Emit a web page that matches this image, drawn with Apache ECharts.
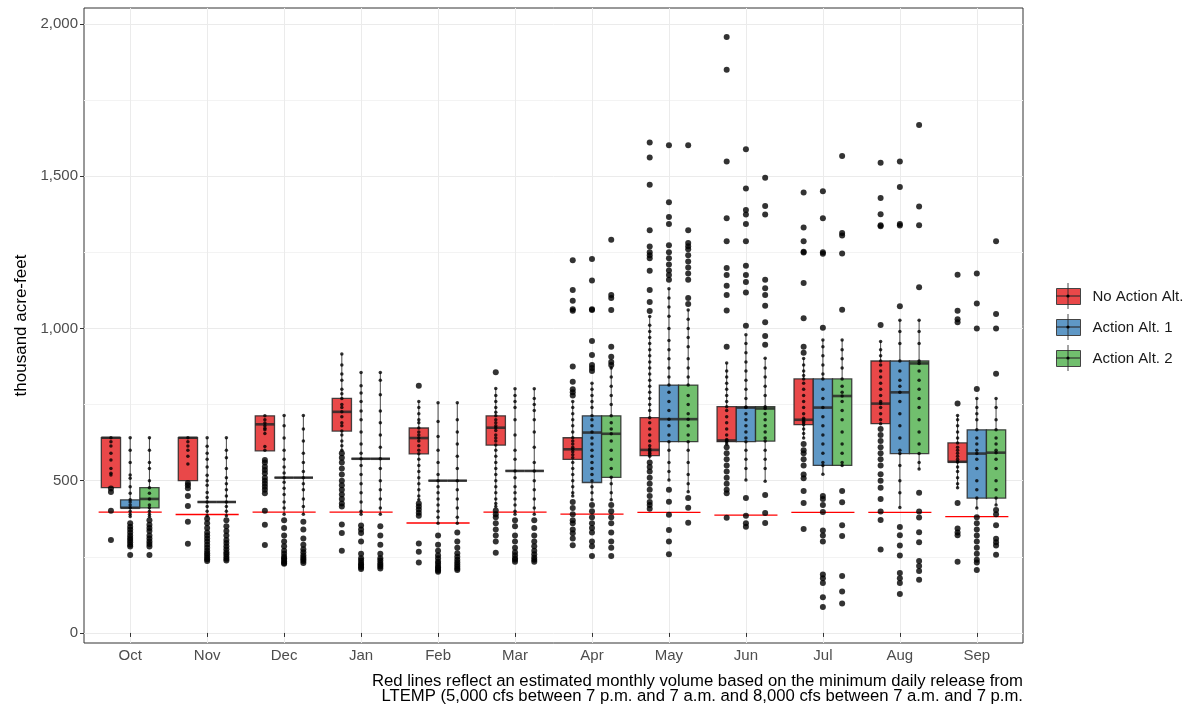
<!DOCTYPE html>
<html>
<head>
    <meta charset="utf-8">
    <title>Monthly volume</title>
    <script src="https://cdn.jsdelivr.net/npm/echarts@6/dist/echarts.min.js"></script>
</head>
<body style="margin:0">
<div id="chart" style="width:1190px;height:705px;"></div>

<script type="text/javascript">

    var months = ['Oct', 'Nov', 'Dec', 'Jan', 'Feb', 'Mar', 'Apr', 'May', 'Jun', 'Jul', 'Aug', 'Sep'];
    var alts = ['No Action Alt.', 'Action Alt. 1', 'Action Alt. 2'];
    var yTicks = [0, 500, 1000, 1500, 2000];
    var yMinorTicks = [250, 750, 1250, 1750];

    // red reference line per month
    var redLine = [397, 389, 397, 397, 361, 397, 390, 396, 387, 396, 396, 382];

    // [low whisker, q1, median, q3, high whisker]
    var boxNoAction = [
        [477, 477, 641, 641, 641], [500, 500, 641, 641, 641], [598, 598, 685, 713, 713],
        [600, 663, 726, 770, 916], [437, 588, 640, 673, 760], [415, 617, 674, 713, 803],
        [450, 570, 603, 641, 760], [570, 582, 601, 707, 1039], [620, 628, 632, 743, 886],
        [640, 684, 700, 834, 901], [687, 687, 753, 893, 957], [477, 561, 562, 624, 714]
    ];
    var boxAlt1 = [
        [382, 411, 411, 437, 641], [385, 430, 430, 430, 641], [390, 510, 510, 510, 714],
        [390, 572, 572, 572, 855], [360, 500, 500, 500, 756], [390, 532, 532, 532, 802],
        [437, 494, 658, 713, 820], [502, 628, 702, 814, 1130], [502, 628, 740, 742, 979],
        [521, 550, 740, 834, 962], [412, 589, 790, 893, 1027], [410, 443, 589, 667, 770]
    ];
    var boxAlt2 = [
        [382, 411, 440, 477, 641], [385, 430, 430, 430, 641], [390, 510, 510, 510, 714],
        [390, 572, 572, 572, 855], [360, 500, 500, 500, 756], [390, 532, 532, 532, 802],
        [437, 511, 654, 713, 870], [464, 628, 702, 814, 1060], [498, 630, 737, 743, 902],
        [550, 550, 778, 834, 962], [538, 589, 885, 893, 1027], [420, 443, 592, 667, 770]
    ];

    // individual yearly values (small dots)
    var ptsNoAction = [
        [641, 628, 614, 590, 568, 540, 524, 519],
        [641, 628, 614, 600, 580, 555],
        [713, 700, 689, 680, 672, 667, 655, 612, 600],
        [916, 880, 850, 830, 800, 785, 770, 750, 740, 726, 710, 690, 680, 663, 650, 630, 615, 600],
        [760, 740, 720, 700, 690, 673, 660, 650, 640, 630, 615, 600, 588, 570, 550, 530, 510, 490, 470, 450, 437],
        [803, 780, 760, 740, 725, 713, 700, 690, 680, 674, 665, 650, 640, 630, 617, 600, 580, 560, 540, 520, 500, 480, 460, 440, 425, 415],
        [760, 740, 720, 700, 680, 660, 641, 630, 620, 610, 603, 595, 585, 575, 560, 540, 520, 500, 480, 460, 450],
        [1039, 1010, 990, 970, 950, 930, 910, 890, 870, 850, 830, 810, 790, 770, 750, 730, 707, 690, 670, 650, 630, 615, 605, 600, 595, 590, 585, 580],
        [886, 860, 840, 820, 800, 780, 760, 743, 730, 710, 690, 670, 650, 635, 632, 630, 628, 620],
        [901, 880, 860, 845, 834, 820, 800, 780, 760, 740, 720, 705, 700, 695, 690, 684, 670, 655, 640],
        [957, 930, 910, 893, 880, 860, 840, 820, 800, 780, 760, 753, 740, 720, 700, 687],
        [714, 700, 680, 660, 640, 624, 610, 600, 590, 580, 570, 562, 561, 545, 530, 510, 490, 477]
    ];
    var ptsAlt1 = [
        [641, 600, 560, 519, 508, 480, 459, 437, 430, 420, 411, 400, 390, 382],
        [641, 613, 590, 570, 545, 518, 500, 485, 461, 445, 430, 415, 400, 385],
        [714, 680, 640, 600, 570, 545, 525, 510, 495, 475, 455, 430, 410, 390],
        [855, 812, 788, 760, 729, 700, 660, 620, 590, 572, 550, 520, 490, 460, 430, 400, 390],
        [756, 694, 645, 600, 560, 520, 500, 480, 460, 440, 420, 400, 380, 360],
        [802, 780, 760, 740, 700, 650, 600, 570, 532, 510, 480, 460, 440, 420, 400, 390],
        [820, 800, 780, 760, 740, 713, 700, 680, 660, 640, 620, 600, 580, 560, 540, 520, 500, 480, 460, 437],
        [1130, 1100, 1070, 1040, 1000, 960, 930, 900, 870, 840, 814, 790, 760, 730, 702, 680, 650, 628, 600, 560, 530, 502],
        [979, 950, 920, 890, 860, 830, 800, 770, 742, 740, 720, 700, 680, 660, 640, 628, 600, 570, 540, 502],
        [962, 940, 910, 880, 850, 834, 800, 770, 740, 710, 680, 650, 620, 590, 560, 550, 521],
        [1027, 990, 950, 893, 860, 830, 810, 790, 760, 720, 680, 640, 600, 589, 550, 500, 460, 412],
        [770, 740, 720, 700, 667, 640, 620, 600, 589, 570, 540, 500, 470, 443, 410]
    ];
    var ptsAlt2 = [
        [641, 600, 560, 540, 500, 477, 459, 440, 420, 411, 400, 390, 382],
        [641, 600, 575, 540, 510, 490, 470, 450, 430, 415, 400, 385],
        [714, 670, 630, 590, 560, 530, 510, 490, 470, 440, 415, 390],
        [855, 830, 782, 729, 690, 650, 610, 572, 540, 500, 470, 440, 410, 390],
        [756, 700, 660, 620, 580, 540, 500, 470, 440, 410, 380, 360],
        [802, 770, 750, 730, 700, 660, 610, 560, 532, 500, 470, 440, 410, 390],
        [870, 840, 810, 780, 750, 713, 690, 670, 654, 630, 600, 570, 540, 511, 490, 460, 437],
        [1060, 1030, 1000, 970, 940, 900, 870, 840, 814, 780, 750, 720, 702, 680, 650, 628, 600, 560, 520, 490, 464],
        [902, 870, 840, 810, 780, 743, 737, 720, 700, 680, 660, 640, 630, 600, 570, 540, 498],
        [962, 930, 900, 870, 834, 810, 790, 778, 760, 730, 700, 660, 620, 590, 560, 550],
        [1027, 990, 950, 893, 885, 860, 830, 800, 770, 740, 700, 660, 620, 589, 560, 538],
        [770, 740, 700, 667, 640, 620, 600, 592, 570, 540, 500, 470, 443, 420]
    ];

    // outliers (large dots)
    var outNoAction = [
        [474, 463, 401, 305],
        [492, 485, 475, 450, 417, 365, 293],
        [568, 560, 546, 535, 524, 510, 500, 490, 480, 470, 459, 401, 355, 289],
        [590, 575, 560, 540, 520, 500, 485, 470, 455, 440, 425, 415, 356, 328, 270],
        [812, 425, 415, 405, 395, 385, 294, 267, 231],
        [856, 402, 390, 380, 360, 340, 320, 300, 263],
        [1224, 1126, 1091, 1063, 1058, 875, 825, 800, 790, 780, 430, 410, 390, 370, 360, 340, 327, 310, 288],
        [1610, 1561, 1472, 1322, 1269, 1250, 1240, 1230, 1189, 1126, 1087, 1057, 560, 545, 530, 510, 490, 470, 450, 430, 420, 408],
        [1957, 1849, 1548, 1362, 1286, 1198, 1175, 1140, 1110, 1059, 940, 610, 590, 570, 550, 530, 510, 490, 470, 459, 378],
        [1446, 1331, 1286, 1252, 1249, 1149, 1033, 940, 920, 620, 600, 590, 570, 550, 520, 508, 466, 427, 341],
        [1544, 1428, 1375, 1339, 1335, 1011, 670, 650, 630, 610, 590, 570, 550, 521, 500, 477, 440, 399, 371, 274],
        [1176, 1058, 1030, 1020, 753, 427, 343, 330, 321, 234]
    ];
    var outAlt1 = [
        [360, 349, 340, 330, 320, 312, 305, 298, 290, 284, 256],
        [375, 360, 345, 330, 320, 310, 300, 290, 280, 270, 262, 255, 248, 242, 236],
        [370, 345, 320, 300, 285, 270, 260, 250, 245, 240, 235, 230, 227],
        [353, 340, 328, 300, 260, 245, 238, 230, 225, 220, 215, 210],
        [320, 290, 270, 255, 245, 235, 228, 220, 215, 210, 205, 201],
        [370, 350, 320, 300, 280, 265, 255, 245, 240, 234],
        [1228, 1157, 1063, 1060, 959, 913, 880, 870, 860, 420, 400, 380, 360, 345, 330, 300, 285, 253],
        [1601, 1414, 1366, 1343, 1273, 1250, 1230, 1210, 1190, 1175, 1160, 470, 431, 388, 338, 300, 258],
        [1588, 1459, 1389, 1374, 1343, 1286, 1206, 1175, 1152, 1118, 1009, 443, 385, 360, 349],
        [1450, 1362, 1250, 1245, 1002, 450, 440, 420, 397, 336, 320, 300, 192, 180, 164, 117, 85],
        [1548, 1464, 1343, 1338, 1073, 348, 321, 287, 254, 197, 180, 164, 128],
        [1180, 1082, 1000, 801, 380, 360, 340, 320, 300, 280, 260, 240, 231, 207]
    ];
    var outAlt2 = [
        [370, 355, 345, 335, 320, 310, 300, 292, 284, 256],
        [370, 350, 335, 320, 305, 295, 285, 275, 265, 258, 250, 244, 238],
        [365, 340, 310, 290, 275, 265, 255, 248, 242, 236, 230],
        [350, 320, 290, 260, 245, 238, 230, 224, 218, 212],
        [330, 300, 280, 262, 250, 240, 232, 225, 218, 212, 207],
        [370, 345, 320, 300, 285, 270, 258, 248, 240, 234],
        [1291, 1110, 1100, 1060, 940, 907, 890, 880, 420, 400, 380, 360, 330, 300, 280, 253],
        [1601, 1322, 1280, 1270, 1260, 1240, 1220, 1200, 1180, 1160, 1100, 1080, 443, 411, 362],
        [1495, 1402, 1374, 1160, 1132, 1110, 1074, 1020, 975, 946, 453, 394, 361],
        [1566, 1313, 1305, 1246, 1061, 466, 429, 354, 318, 187, 136, 97],
        [1668, 1400, 1339, 1135, 460, 399, 379, 331, 298, 236, 220, 203, 175],
        [1286, 1047, 1000, 851, 404, 390, 354, 309, 298, 287, 257]
    ];

    var fills = ['#E94849', '#5F98C6', '#71BF6E'];
    var dodge = [-0.25, 0, 0.25];
    var boxW = 0.25;
    var lineHalf = 0.41;
    var boxes = [boxNoAction, boxAlt1, boxAlt2];
    var pts = [ptsNoAction, ptsAlt1, ptsAlt2];
    var outs = [outNoAction, outAlt1, outAlt2];
    var stroke = 'rgba(40,40,40,0.85)';

    function renderBox(params, api) {
        var x = api.value(0);
        var lo = api.coord([x, api.value(1)]);
        var hi = api.coord([x, api.value(5)]);
        var q1l = api.coord([x - boxW / 2, api.value(2)]);
        var q3r = api.coord([x + boxW / 2, api.value(4)]);
        var medL = api.coord([x - boxW / 2, api.value(3)]);
        var medR = api.coord([x + boxW / 2, api.value(3)]);
        return {
            type: 'group',
            children: [
                {type: 'line', shape: {x1: lo[0], y1: lo[1], x2: hi[0], y2: hi[1]},
                    style: {stroke: stroke, lineWidth: 1}},
                {type: 'rect', shape: {x: q1l[0], y: q3r[1], width: q3r[0] - q1l[0], height: q1l[1] - q3r[1]},
                    style: {fill: api.visual('color'), stroke: stroke, lineWidth: 1.3}},
                {type: 'line', shape: {x1: medL[0], y1: medL[1], x2: medR[0], y2: medR[1]},
                    style: {stroke: stroke, lineWidth: 2.6}}
            ]
        };
    }

    function renderRedLine(params, api) {
        var x = api.value(0);
        var a = api.coord([x - lineHalf, api.value(1)]);
        var b = api.coord([x + lineHalf, api.value(1)]);
        return {type: 'line', shape: {x1: a[0], y1: a[1], x2: b[0], y2: b[1]},
            style: {stroke: '#FF0000', lineWidth: 1.3}};
    }

    var series = [];
    alts.forEach(function (name, k) {
        series.push({
            name: name,
            type: 'custom',
            renderItem: renderBox,
            itemStyle: {color: fills[k]},
            encode: {x: 0, y: [1, 2, 3, 4, 5]},
            data: boxes[k].map(function (b, i) { return [i + 1 + dodge[k]].concat(b); }),
            z: 2
        });
    });
    series.push({
        name: 'minimum',
        type: 'custom',
        renderItem: renderRedLine,
        encode: {x: 0, y: 1},
        data: redLine.map(function (v, i) { return [i + 1, v]; }),
        z: 3
    });
    alts.forEach(function (name, k) {
        var small = [], big = [];
        pts[k].forEach(function (arr, i) {
            arr.forEach(function (v) { small.push([i + 1 + dodge[k], v]); });
        });
        outs[k].forEach(function (arr, i) {
            arr.forEach(function (v) { big.push([i + 1 + dodge[k], v]); });
        });
        series.push({name: 'pts' + k, type: 'scatter', data: small, symbolSize: 3.5,
            itemStyle: {color: '#000'}, z: 4, silent: true});
        series.push({name: 'out' + k, type: 'scatter', data: big, symbolSize: 6,
            itemStyle: {color: '#000'}, z: 4, silent: true});
    });

    // boxplot glyph marks drawn over the legend keys
    var legendLeft = 1056, legendTop = 288, keyW = 24, keyH = 16, keyGap = 14, keyStep = 31;
    var glyphs = [];
    alts.forEach(function (name, k) {
        var cx = legendLeft + keyW / 2;
        var top = legendTop + k * keyStep;
        glyphs.push({type: 'line', silent: true, z: 100,
            shape: {x1: cx, y1: top - 5, x2: cx, y2: top + keyH + 5}, style: {stroke: stroke, lineWidth: 1}});
        glyphs.push({type: 'line', silent: true, z: 100,
            shape: {x1: legendLeft, y1: top + keyH / 2, x2: legendLeft + keyW, y2: top + keyH / 2}, style: {stroke: stroke, lineWidth: 1.3}});
        glyphs.push({type: 'circle', silent: true, z: 101,
            shape: {cx: cx, cy: top + keyH / 2, r: 1.6}, style: {fill: '#000'}});
    });
    glyphs.push({
        type: 'text', right: 167, bottom: 0, silent: true,
        style: {
            text: 'Red lines reflect an estimated monthly volume based on the minimum daily release from\nLTEMP (5,000 cfs between 7 p.m. and 7 a.m. and 8,000 cfs between 7 a.m. and 7 p.m.',
            textAlign: 'right', fill: '#000', font: '16.7px "Liberation Sans"', lineHeight: 15
        }
    });

    var myChart = echarts.init(document.getElementById('chart'));

    myChart.setOption({
        animation: false,
        legend: {
            data: alts,
            orient: 'vertical',
            left: legendLeft,
            top: legendTop,
            padding: 0,
            icon: 'rect',
            itemWidth: keyW,
            itemHeight: keyH,
            itemGap: keyGap,
            itemStyle: {borderColor: '#444', borderWidth: 1},
            textStyle: {fontSize: 15, color: '#1a1a1a', fontFamily: 'Liberation Sans', padding: [0, 0, 0, 7]}
        },
        graphic: glyphs,
        grid: {
            left: 84, right: 167, top: 8, bottom: 62,
            show: true, borderColor: '#333', borderWidth: 1, backgroundColor: 'transparent'
        },
        xAxis: {
            type: 'value',
            min: 0.4,
            max: 12.6,
            axisLine: {show: false},
            axisTick: {show: true, length: 4, lineStyle: {color: '#333'}, customValues: months.map(function (m, i) { return i + 1; })},
            axisLabel: {
                customValues: months.map(function (m, i) { return i + 1; }),
                formatter: function (v) { return months[Math.round(v) - 1]; },
                fontSize: 15, color: '#4d4d4d', margin: 5, fontFamily: 'Liberation Sans'
            },
            splitLine: {show: true, lineStyle: {color: '#ebebeb', width: 1}}
        },
        yAxis: [{
            type: 'value',
            min: -33,
            max: 2052,
            position: 'left',
            name: 'thousand acre-feet',
            nameLocation: 'middle',
            nameGap: 54,
            nameTextStyle: {fontSize: 17, color: '#000', fontFamily: 'Liberation Sans'},
            axisLine: {show: false},
            axisTick: {show: true, length: 4, lineStyle: {color: '#333'}, customValues: yTicks},
            axisLabel: {
                customValues: yTicks,
                formatter: function (v) { return v.toLocaleString('en-US'); },
                fontSize: 15, color: '#4d4d4d', margin: 6, fontFamily: 'Liberation Sans'
            },
            splitLine: {show: true, lineStyle: {color: '#ebebeb', width: 1}}
        }, {
            type: 'value',
            min: -33,
            max: 2052,
            position: 'left',
            axisLine: {show: false},
            axisTick: {show: false, customValues: yMinorTicks},
            axisLabel: {show: false},
            splitLine: {show: true, lineStyle: {color: '#f3f3f3', width: 1}}
        }],
        series: series
    });

</script>
</html>
